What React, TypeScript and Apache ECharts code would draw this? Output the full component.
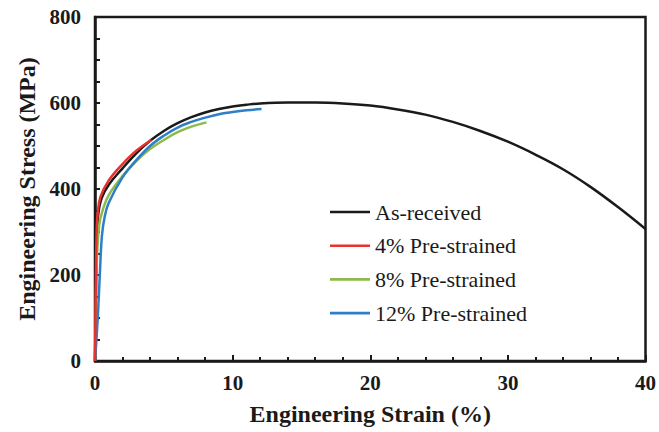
import React, { useEffect, useRef } from "react";
import * as echarts from "echarts";

const xTicks = [0, 10, 20, 30, 40];
const yTicks = [0, 200, 400, 600, 800];

const asReceivedStrain = [0, 0.08, 0.15, 0.25, 0.5, 1, 2, 3, 4, 5, 6, 7, 8, 9, 10, 11, 12, 14, 16, 18, 20, 22, 24, 26, 28, 30, 32, 34, 36, 38, 40];
const asReceivedStress = [0, 180, 300, 345, 380, 410, 448, 483, 512, 535, 553, 567, 578, 586, 592, 596, 599, 601, 601, 599, 594, 585, 573, 556, 535, 510, 480, 446, 405, 358, 307];

const pre4Strain = [0, 0.06, 0.12, 0.2, 0.4, 1, 2, 3, 4.1];
const pre4Stress = [0, 180, 305, 345, 382, 420, 458, 489, 514];

const pre8Strain = [0, 0.05, 0.1, 0.3, 0.6, 1, 2, 3, 4, 5, 6, 7, 8.1];
const pre8Stress = [0, 30, 200, 315, 355, 386, 430, 465, 493, 514, 532, 545, 555];

const pre12Strain = [0, 0.2, 0.35, 0.5, 0.7, 1, 2, 3, 4, 5, 6, 7, 8, 9, 10, 11, 12.1];
const pre12Stress = [0, 100, 200, 290, 335, 368, 427, 467, 500, 524, 543, 556, 566, 574, 579, 583, 586];

const seriesNames = ["As-received", "4% Pre-strained", "8% Pre-strained", "12% Pre-strained"];
const seriesColors = ["#1a1a1a", "#e8322b", "#8dba4a", "#2f7fc8"];
const seriesZ = [2, 5, 3, 4];

const zip = (xs: number[], ys: number[]) => xs.map((x, i) => [x, ys[i]]);

export default function App() {
  const ref = useRef<HTMLDivElement>(null);
  useEffect(() => {
    if (!ref.current) return;
    const chart = echarts.init(ref.current, undefined, { renderer: "svg" });
    const font = "'Liberation Serif', 'Times New Roman', serif";
    const datasets = [
      zip(asReceivedStrain, asReceivedStress),
      zip(pre4Strain, pre4Stress),
      zip(pre8Strain, pre8Stress),
      zip(pre12Strain, pre12Stress),
    ];
    chart.setOption({
      animation: false,
      backgroundColor: "#ffffff",
      grid: {
        left: 95,
        right: 10,
        top: 17,
        bottom: 71,
        show: true,
        borderColor: "#1a1a1a",
        borderWidth: 2.5,
        containLabel: false,
      },
      legend: {
        orient: "vertical",
        left: 330,
        top: 201,
        padding: 0,
        itemWidth: 40,
        itemHeight: 14,
        itemGap: 11.7,
        icon: "path://M0,0 L40,0 L40,2.6 L0,2.6 Z",
        data: seriesNames,
        textStyle: { fontFamily: font, fontSize: 22, color: "#1a1a1a" },
      },
      xAxis: {
        type: "value",
        min: xTicks[0],
        max: xTicks[xTicks.length - 1],
        interval: 10,
        name: "Engineering Strain (%)",
        nameLocation: "middle",
        nameGap: 41,
        nameTextStyle: { fontFamily: font, fontSize: 24, fontWeight: "bold", color: "#1a1a1a" },
        axisLine: { show: true, lineStyle: { color: "#1a1a1a", width: 2.5 } },
        axisTick: { show: true, inside: true, length: 6, lineStyle: { color: "#1a1a1a", width: 2 } },
        minorTick: { show: true, splitNumber: 5, length: 4, lineStyle: { color: "#1a1a1a", width: 2 } },
        axisLabel: { fontFamily: font, fontSize: 21, fontWeight: "bold", color: "#1a1a1a", margin: 11 },
        splitLine: { show: false },
      },
      yAxis: {
        type: "value",
        min: yTicks[0],
        max: yTicks[yTicks.length - 1],
        interval: 200,
        name: "Engineering Stress (MPa)",
        nameLocation: "middle",
        nameGap: 56,
        nameTextStyle: { fontFamily: font, fontSize: 24, fontWeight: "bold", color: "#1a1a1a" },
        axisLine: { show: true, lineStyle: { color: "#1a1a1a", width: 2.5 } },
        axisTick: { show: true, inside: true, length: 5, lineStyle: { color: "#1a1a1a", width: 2 } },
        minorTick: { show: true, splitNumber: 4, length: 5, lineStyle: { color: "#1a1a1a", width: 2 } },
        axisLabel: { fontFamily: font, fontSize: 21, fontWeight: "bold", color: "#1a1a1a", margin: 14 },
        splitLine: { show: false },
      },
      series: datasets.map((d, i) => ({
        name: seriesNames[i],
        type: "line",
        data: d,
        showSymbol: false,
        symbol: "none",
        smooth: 0.4,
        z: seriesZ[i],
        lineStyle: { color: seriesColors[i], width: 2.5 },
        itemStyle: { color: seriesColors[i] },
      })),
    });
    return () => chart.dispose();
  }, []);
  return <div ref={ref} style={{ width: 659, height: 432, position: "absolute", left: 0, top: 0 }} />;
}
